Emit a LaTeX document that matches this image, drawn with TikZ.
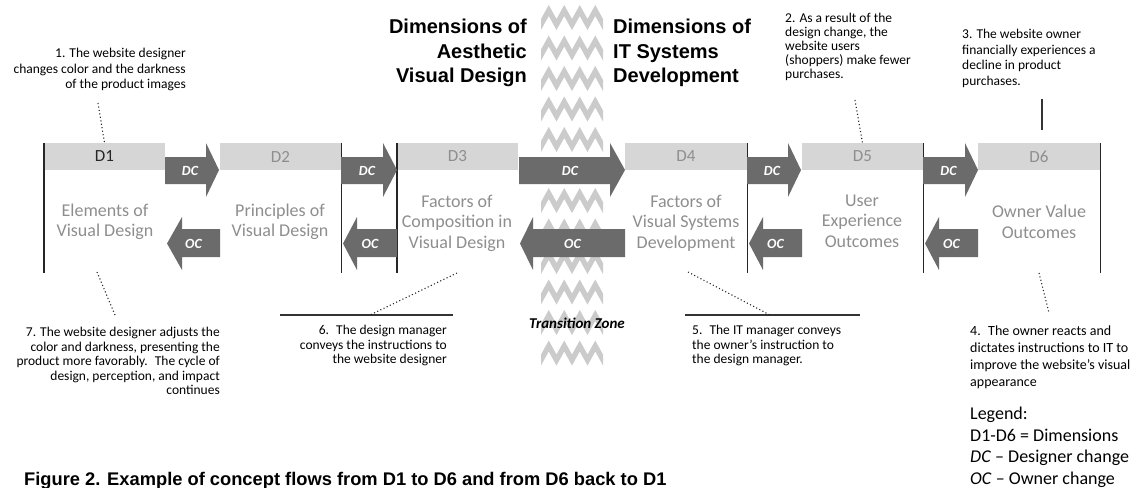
\documentclass[tikz,border=0pt]{standalone}
\usepackage{fontspec}
\setmainfont{Carlito}
\newfontfamily\arialfont{Liberation Sans}
\definecolor{arrowgray}{HTML}{6B6B6B}
\definecolor{hdrgray}{HTML}{D6D6D6}
\definecolor{titlegray}{HTML}{8E8E8E}
\definecolor{ziggray}{HTML}{CBCBCB}
\tikzset{
 hdr/.style={fill=hdrgray, minimum height=27pt, inner sep=0pt, text=titlegray, font=\fontsize{17}{20}\selectfont},
 boxtitle/.style={align=center, text=titlegray, inner sep=0pt, font=\fontsize{18}{20.5}\selectfont},
 frame/.style={line width=1.4pt, black!85},
 blockarrow/.style={fill=arrowgray},
 arrowlabel/.style={text=white, inner sep=0pt, font=\fontsize{14}{16}\selectfont\bfseries\itshape},
 note/.style={inner sep=0pt, font=\fontsize{13.5}{14.5}\selectfont},
 heading/.style={inner sep=0pt, font=\arialfont\bfseries\fontsize{20}{24.5}\selectfont},
 dotline/.style={line width=1.1pt, dash pattern=on 1.1pt off 2.4pt, black!85},
 solidline/.style={line width=1.3pt, black!80},
 zig/.style={fill=ziggray},
}
\begin{document}
\begin{tikzpicture}[x=1pt,y=-1pt]
\useasboundingbox (0,0) rectangle (1139,487);
% transition zone zigzag
\foreach \k in {0,...,11}{
  \pgfmathsetmacro\yy{5+30.5*\k}
  \begin{scope}[shift={(0,\yy)}]
    \fill[zig] (541,14) -- (548.75,0) -- (556.5,14) -- (564.25,0) -- (572,14) -- (579.75,0) -- (587.5,14) -- (595.25,0) -- (603,14)
      -- (603,25) -- (595.25,11) -- (587.5,25) -- (579.75,11) -- (572,25) -- (564.25,11) -- (556.5,25) -- (548.75,11) -- (541,25) -- cycle;
  \end{scope}
}
% headers
\node[hdr, minimum width=121pt, text=black!85] (h1) at (104.5,156.5) {D1};
\node[hdr, minimum width=121pt] (h2) at (280.5,156.5) {D2};
\node[hdr, minimum width=121pt] (h3) at (457.5,156.5) {D3};
\node[hdr, minimum width=122pt] (h4) at (686,156.5) {D4};
\node[hdr, minimum width=121pt] (h5) at (862.5,156.5) {D5};
\node[hdr, minimum width=122pt] (h6) at (1039,156.5) {D6};
% frame lines
\draw[frame] (h1.north west) -- ++(0,130);
\draw[frame] (h2.north east) -- ++(0,130);
\draw[frame] (h3.north west) -- ++(0,130);
\draw[frame] (h4.north east) -- ++(0,130);
\draw[frame] (h5.north east) -- ++(0,130);
\draw[frame] (h6.north east) -- ++(0,130);
% box titles
\node[boxtitle] (t1) at (105,222) {Elements of\\Visual Design};
\node[boxtitle] (t2) at (280,222) {Principles of\\Visual Design};
\node[boxtitle] (t3) at (457,223) {Factors of\\Composition in\\Visual Design};
\node[boxtitle] (t4) at (686,223) {Factors of\\Visual Systems\\Development};
\node[boxtitle] (t5) at (862,221) {User\\Experience\\Outcomes};
\node[boxtitle] (t6) at (1039,222) {Owner Value\\Outcomes};
% DC arrows
\foreach \a/\b/\c/\n in {165/206/219/1, 341/383/397/2, 519/610/625/3, 747/788/801/4, 923/965/978/5}{
  \fill[blockarrow] (\a,157) -- (\b,157) -- (\b,143) -- (\c,170) -- (\b,197) -- (\b,184) -- (\a,184) -- cycle;
  \node[arrowlabel] (dc\n) at ({(\a+\c)/2-2},171) {DC};
}
% OC arrows
\foreach \t/\b/\e/\n in {167/182/220/1, 343/357/397/2, 520/533/625/3, 749/763/802/4, 925/939/978/5}{
  \fill[blockarrow] (\e,229) -- (\b,229) -- (\b,217) -- (\t,243.5) -- (\b,270) -- (\b,257) -- (\e,257) -- cycle;
  \node[arrowlabel] (oc\n) at ({(\t+\e)/2},244) {OC};
}
% headings
\node[heading, anchor=north east, align=right] (hl) at (527,19) {Dimensions of\\Aesthetic\\Visual Design};
\node[heading, anchor=north west, align=left] (hr) at (613,19) {Dimensions of\\IT Systems\\Development};
% notes
\node[note, anchor=north east, align=right, font=\fontsize{13.5}{15.5}\selectfont] (n1) at (186,48) {1. The website designer\\changes color and the darkness\\of the product images};
\node[note, anchor=north west, align=left, font=\fontsize{13.5}{14}\selectfont] (n2) at (785,13) {2. As a result of the\\design change, the\\website users\\(shoppers) make fewer\\purchases.};
\node[note, anchor=north west, align=left, font=\fontsize{13.5}{15.5}\selectfont] (n3) at (962,29) {3. The website owner\\financially experiences a\\decline in product\\purchases.};
\node[note, anchor=north west, align=left, font=\fontsize{14}{17}\selectfont] (n4) at (970,326) {4.~ The owner reacts and\\dictates instructions to IT to\\improve the website's visual\\appearance};
\node[note, anchor=north west, align=left] (n5) at (692,325) {5.~ The IT manager conveys\\the owner's instruction to\\the design manager.};
\node[note, anchor=north east, align=right] (n6) at (447,325) {6.~ The design manager\\conveys the instructions to\\the website designer};
\node[note, anchor=north east, align=right] (n7) at (220,327) {7. The website designer adjusts the\\color and darkness, presenting the\\product more favorably.~ The cycle of\\design, perception, and impact\\continues};
% legend
\node[anchor=north west, align=left, inner sep=0pt, font=\fontsize{18}{21.5}\selectfont] (leg) at (970,407) {Legend:\\D1-D6 = Dimensions\\\textit{DC} – Designer change\\\textit{OC} – Owner change};
% transition zone label
\node[inner sep=0pt, font=\fontsize{15}{18}\selectfont\bfseries\itshape] (tz) at (577,323) {Transition Zone};
% caption
\node[anchor=base west, inner sep=0pt, font=\arialfont\bfseries\fontsize{18.3}{21}\selectfont] (cap) at (24,485) {Figure 2. Example of concept flows from D1 to D6 and from D6 back to D1};
% connectors
\coordinate (n1a) at (98,103);
\draw[dotline] (n1a) -- (h1.north);
\coordinate (n2a) at (855,100);
\draw[dotline] (n2a) -- (h5.north);
\coordinate (n3a) at (1042,99);
\coordinate (n3b) at (1042,130);
\draw[solidline] (n3a) -- (n3b);
\coordinate (n4a) at (1039,273);
\coordinate (n4b) at (1049,313);
\draw[dotline] (n4a) -- (n4b);
\coordinate (l5a) at (685,315);
\coordinate (l5b) at (860,315);
\draw[solidline] (l5a) -- (l5b);
\coordinate (n5a) at (688,272);
\coordinate (n5b) at (770,315);
\draw[dotline] (n5a) -- (n5b);
\coordinate (l6a) at (280,315);
\coordinate (l6b) at (453,315);
\draw[solidline] (l6a) -- (l6b);
\coordinate (n6a) at (457,273);
\coordinate (n6b) at (370,315);
\draw[dotline] (n6a) -- (n6b);
\coordinate (n7a) at (97,272);
\coordinate (n7b) at (115,315);
\draw[dotline] (n7a) -- (n7b);
\end{tikzpicture}
\end{document}
